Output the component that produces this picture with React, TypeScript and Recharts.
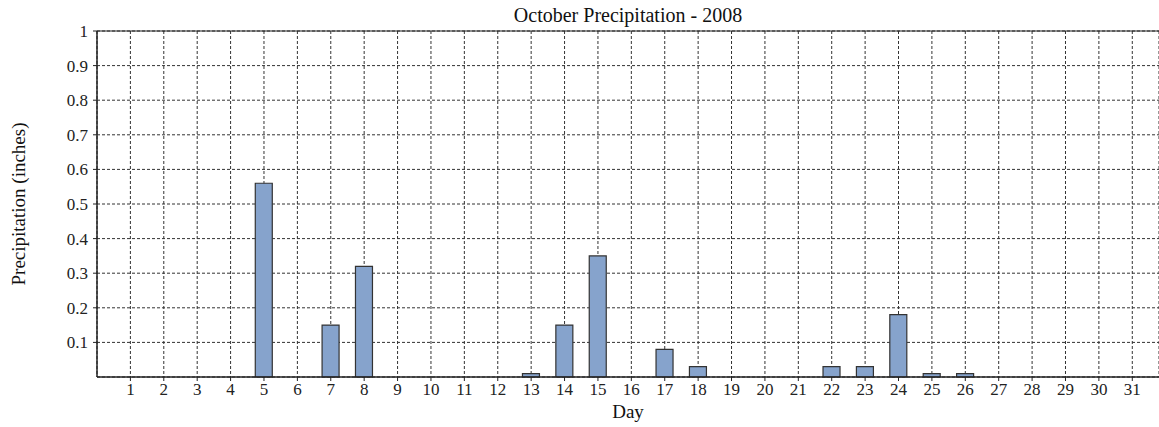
import React from 'react';
import { BarChart, Bar, XAxis, YAxis, CartesianGrid, ReferenceLine, Label } from 'recharts';

const days: number[] = Array.from({ length: 31 }, (_, i) => i + 1);
const precipitation: number[] = [
  0, 0, 0, 0, 0.56, 0, 0.15, 0.32, 0, 0,
  0, 0, 0.01, 0.15, 0.35, 0, 0.08, 0.03, 0, 0,
  0, 0.03, 0.03, 0.18, 0.01, 0.01, 0, 0, 0, 0, 0,
];
const yTicks: number[] = [0.1, 0.2, 0.3, 0.4, 0.5, 0.6, 0.7, 0.8, 0.9, 1];

const data = days.map((d, i) => ({ day: d, value: precipitation[i] }));

const FONT = '"Liberation Serif", "Times New Roman", serif';
const tickStyle = { fontFamily: FONT, fontSize: 17, fill: '#222' };

export default function App() {
  return (
    <div style={{ position: 'absolute', left: 0, top: 0, width: 1159, height: 427, background: '#fff' }}>
      <div
        style={{
          position: 'absolute',
          top: 4,
          left: 0,
          width: 1256,
          textAlign: 'center',
          fontFamily: FONT,
          fontSize: 20,
          color: '#111',
          lineHeight: '23px',
        }}
      >
        October Precipitation - 2008
      </div>
      <BarChart
        width={1159}
        height={427}
        data={data}
        margin={{ top: 31, right: 0, bottom: 0, left: 0 }}
      >
        <CartesianGrid stroke="#333" strokeDasharray="3 2" />
        <XAxis
          dataKey="day"
          type="number"
          domain={[0, 31.8]}
          ticks={days}
          interval={0}
          height={50}
          tickSize={4}
          tickMargin={2}
          tick={tickStyle}
          axisLine={{ stroke: '#222', strokeWidth: 1.5 }}
          tickLine={{ stroke: '#222' }}
          allowDataOverflow
        >
          <Label
            value="Day"
            position="insideBottom"
            offset={9}
            style={{ fontFamily: FONT, fontSize: 19, fill: '#111' }}
          />
        </XAxis>
        <YAxis
          type="number"
          domain={[0, 1]}
          ticks={yTicks}
          interval={0}
          width={97}
          tickSize={4}
          tickMargin={5}
          tick={tickStyle}
          tickFormatter={(v: number) => String(v)}
          axisLine={{ stroke: '#222', strokeWidth: 1.5 }}
          tickLine={{ stroke: '#222' }}
        >
          <Label
            value="Precipitation (inches)"
            angle={-90}
            position="insideLeft"
            offset={18}
            style={{ fontFamily: FONT, fontSize: 19, fill: '#111', textAnchor: 'middle' }}
          />
        </YAxis>
        <ReferenceLine y={1} stroke="#222" strokeWidth={1.2} />
        <Bar
          dataKey="value"
          fill="#86a3cc"
          stroke="#333"
          strokeWidth={1.2}
          barSize={17}
          isAnimationActive={false}
        />
      </BarChart>
    </div>
  );
}
